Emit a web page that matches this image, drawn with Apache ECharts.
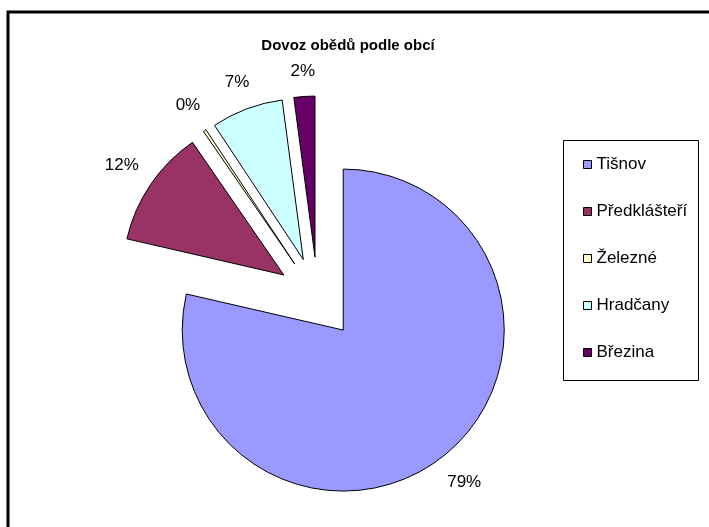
<!DOCTYPE html>
<html>
<head>
<meta charset="utf-8">
<script src="https://cdn.jsdelivr.net/npm/echarts@6/dist/echarts.min.js"></script>
<style>
    html, body { margin: 0; padding: 0; background: #fff; }
    #chart { width: 709px; height: 527px; }
</style>
</head>
<body>
<div id="chart"></div>
<script>
// obce a jejich podil (odhad z obrazku, popisky jsou zaokrouhlene)
var obce = ['Tišnov', 'Předklášteří', 'Železné', 'Hradčany', 'Březina'];
var podil = [78.6, 11.8, 0.3, 7.2, 2.1];
var barvy = ['#9999FF', '#993366', '#FFFFCC', '#CCFFFF', '#660066'];

var font = '"Liberation Sans", Arial, sans-serif';

var myChart = echarts.init(document.getElementById('chart'));

var data = obce.map(function (name, i) {
    return {
        name: name,
        value: podil[i],
        selected: true,
        itemStyle: { color: barvy[i] }
    };
});

// popisek vycentrovat tak, aby jeho okraj lezel na konci vodici cary (jako v Excelu)
function centerLabel (p) {
    var pts = p.labelLinePoints;
    if (!pts) return {};
    var ux = pts[1][0] - pts[0][0], uy = pts[1][1] - pts[0][1];
    var len = Math.sqrt(ux * ux + uy * uy) || 1;
    ux /= len; uy /= len;
    var r = p.labelRect;
    var ax = p.align === 'right' ? r.x + r.width : (p.align === 'left' ? r.x : r.x + r.width / 2);
    var ay = r.y + r.height / 2;
    var ext = Math.abs(ux) * r.width / 2 + Math.abs(uy) * r.height / 2;
    var tx = ax + ux * ext, ty = ay + uy * ext;
    return {
        dx: tx - (r.x + r.width / 2),
        dy: ty - (r.y + r.height / 2)
    };
}

var option = {
    animation: false,
    backgroundColor: '#fff',
    title: {
        text: 'Dovoz obědů podle obcí',
        left: 343,
        top: 33,
        textAlign: 'center',
        textStyle: {
            fontFamily: font,
            fontSize: 15,
            fontWeight: 'bold',
            color: '#000'
        }
    },
    legend: {
        orient: 'vertical',
        left: 583,
        top: 155,
        padding: 0,
        itemWidth: 8,
        itemHeight: 8,
        itemGap: 28,
        itemStyle: { borderColor: '#000', borderWidth: 1 },
        icon: 'rect',
        selectedMode: false,
        data: obce,
        textStyle: {
            fontFamily: font,
            fontSize: 17,
            lineHeight: 19,
            color: '#000'
        }
    },
    graphic: [
        {
            type: 'rect',
            shape: { x: 8, y: 12, width: 720, height: 540 },
            style: { fill: null, stroke: '#000', lineWidth: 3 },
            silent: true
        },
        {
            type: 'rect',
            shape: { x: 563.5, y: 140.5, width: 135, height: 240 },
            style: { fill: null, stroke: '#000', lineWidth: 1 },
            silent: true
        }
    ],
    series: [{
        type: 'pie',
        center: [317.7, 298],
        radius: 161,
        startAngle: 90,
        clockwise: true,
        selectedMode: 'multiple',
        selectedOffset: 41,
        avoidLabelOverlap: false,
        emphasis: { disabled: true },
        itemStyle: {
            borderColor: '#000',
            borderWidth: 1
        },
        label: {
            show: true,
            position: 'outside',
            distanceToLabelLine: 0,
            fontFamily: font,
            fontSize: 17,
            color: '#000',
            formatter: function (p) {
                return Math.round(p.percent) + '%';
            }
        },
        labelLine: {
            show: false,
            length: 16,
            length2: 0
        },
        labelLayout: centerLabel,
        data: data
    }]
};

option && myChart.setOption(option);
window.addEventListener('resize', function () {
    myChart.resize();
});
</script>
</body>
</html>
